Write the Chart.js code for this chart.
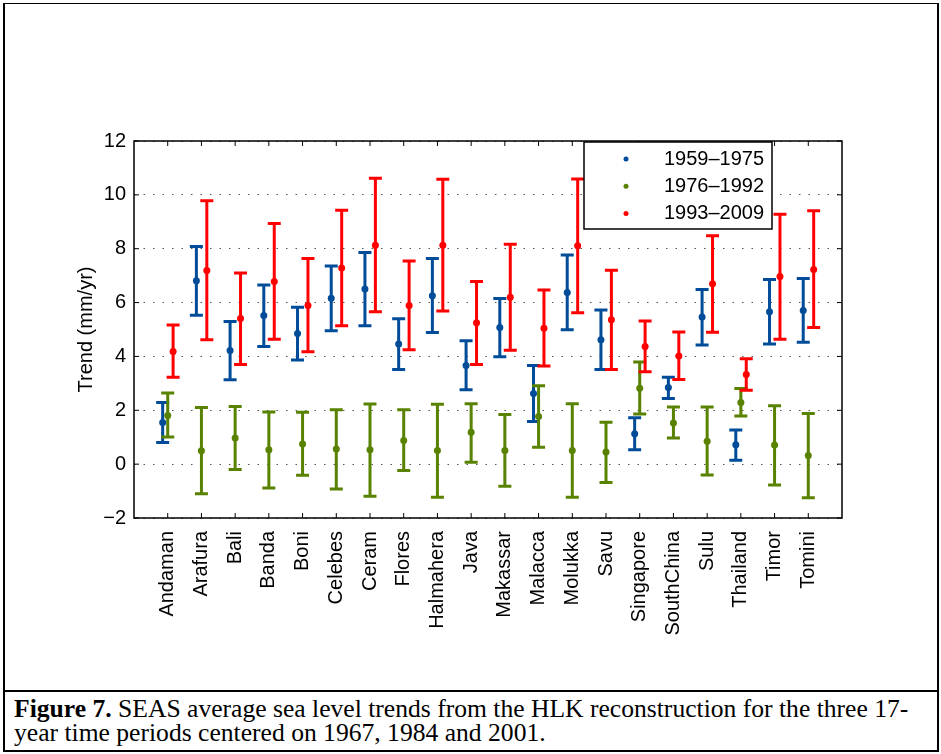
<!DOCTYPE html>
<html lang="en">
<head>
    <meta charset="UTF-8">
    <title>SEAS average sea level trends</title>
    <script src="https://cdnjs.cloudflare.com/ajax/libs/Chart.js/4.4.1/chart.umd.min.js"></script>
    <style>
        body {
            margin: 0;
            background: #fff;
            width: 941px;
            height: 754px;
            position: relative;
            overflow: hidden;
        }
        #frame {
            position: absolute;
            left: 3px;
            top: 3px;
            width: 932px;
            height: 746px;
            border-left: 2px solid #000;
            border-right: 2px solid #000;
            border-top: 1px solid #000;
            border-bottom: 2px solid #000;
        }
        #sep {
            position: absolute;
            left: 3px;
            top: 690px;
            width: 936px;
            height: 2px;
            background: #000;
        }
        #chartBox {
            position: absolute;
            left: 0;
            top: 0;
        }
        #caption {
            position: absolute;
            left: 14px;
            top: 697px;
            font-family: "Liberation Serif", "Times New Roman", serif;
            font-size: 25.6px;
            line-height: 24px;
            white-space: nowrap;
        }
    </style>
</head>
<body>
    <div id="frame"></div>
    <div id="sep"></div>
    <canvas id="chartBox" width="941" height="690"></canvas>
    <div id="caption"><b>Figure 7.</b> SEAS average sea level trends from the HLK reconstruction for the three 17-<br>year time periods centered on 1967, 1984 and 2001.</div>

    <script>
        // regions along the x axis
        const regions = ['Andaman', 'Arafura', 'Bali', 'Banda', 'Boni', 'Celebes', 'Ceram', 'Flores',
            'Halmahera', 'Java', 'Makassar', 'Malacca', 'Molukka', 'Savu', 'Singapore', 'SouthChina',
            'Sulu', 'Thailand', 'Timor', 'Tomini'];

        const periods = ['1959\u20131975', '1976\u20131992', '1993\u20132009'];

        // 1959-1975 trend and error bar limits (mm/yr)
        const trend1 = [1.55, 6.81, 4.22, 5.52, 4.85, 6.16, 6.50, 4.46, 6.25, 3.66, 5.07, 2.62, 6.37, 4.62, 1.13, 2.85, 5.46, 0.72, 5.66, 5.71];
        const low1   = [0.80, 5.53, 3.13, 4.37, 3.87, 4.95, 5.14, 3.51, 4.89, 2.76, 3.99, 1.58, 4.99, 3.51, 0.53, 2.44, 4.42, 0.14, 4.46, 4.53];
        const high1  = [2.29, 8.08, 5.30, 6.65, 5.83, 7.36, 7.86, 5.40, 7.64, 4.58, 6.15, 3.66, 7.77, 5.72, 1.72, 3.23, 6.49, 1.27, 6.86, 6.89];

        // 1976-1992
        const trend2 = [1.81, 0.50, 0.97, 0.53, 0.75, 0.56, 0.53, 0.88, 0.51, 1.18, 0.51, 1.77, 0.51, 0.45, 2.82, 1.53, 0.85, 2.29, 0.71, 0.32];
        const low2   = [1.01, -1.10, -0.20, -0.89, -0.41, -0.92, -1.19, -0.24, -1.23, 0.07, -0.82, 0.63, -1.23, -0.68, 1.86, 0.97, -0.40, 1.79, -0.77, -1.25];
        const high2  = [2.64, 2.10, 2.14, 1.94, 1.93, 2.02, 2.23, 2.02, 2.22, 2.24, 1.84, 2.91, 2.24, 1.56, 3.79, 2.12, 2.12, 2.81, 2.17, 1.88];

        // 1993-2009
        const trend3 = [4.18, 7.19, 5.41, 6.78, 5.89, 7.28, 8.13, 5.89, 8.13, 5.25, 6.20, 5.05, 8.11, 5.36, 4.37, 4.02, 6.70, 3.33, 6.97, 7.23];
        const low3   = [3.23, 4.62, 3.70, 4.64, 4.17, 5.14, 5.66, 4.25, 5.69, 3.70, 4.23, 3.64, 5.62, 3.51, 3.43, 3.14, 4.90, 2.74, 4.64, 5.07];
        const high3  = [5.17, 9.78, 7.10, 8.94, 7.64, 9.43, 10.62, 7.54, 10.58, 6.78, 8.17, 6.47, 10.59, 7.20, 5.32, 4.91, 8.48, 3.91, 9.28, 9.41];

        // y axis ticks
        const yTicks = [-2, 0, 2, 4, 6, 8, 10, 12];

        const FONT = '"Liberation Sans", Arial, sans-serif';

        function series(label, values, lower, upper, color, shift, order) {
            return {
                label: label,
                data: values.map((v, i) => ({ x: i + 1 + shift, y: v })),
                lower: lower,
                upper: upper,
                borderColor: color,
                backgroundColor: color,
                pointRadius: 3.5,
                pointBorderWidth: 0,
                showLine: false,
                order: order
            };
        }

        // vertical error bars with caps, drawn just before each dataset's dots
        const errorBars = {
            id: 'errorBars',
            beforeDatasetDraw(chart, args) {
                const ds = chart.data.datasets[args.index];
                const yScale = chart.scales.y;
                const ctx = chart.ctx;
                ctx.save();
                ctx.strokeStyle = ds.borderColor;
                ctx.lineWidth = 3;
                args.meta.data.forEach((pt, i) => {
                    const top = yScale.getPixelForValue(ds.upper[i]);
                    const bot = yScale.getPixelForValue(ds.lower[i]);
                    ctx.beginPath();
                    ctx.moveTo(pt.x, top);
                    ctx.lineTo(pt.x, bot);
                    ctx.moveTo(pt.x - 6.5, top);
                    ctx.lineTo(pt.x + 6.5, top);
                    ctx.moveTo(pt.x - 6.5, bot);
                    ctx.lineTo(pt.x + 6.5, bot);
                    ctx.stroke();
                });
                ctx.restore();
            }
        };

        // matlab style box with inward ticks on all sides
        const axisBox = {
            id: 'axisBox',
            afterDatasetsDraw(chart) {
                const { ctx, chartArea: a, scales } = chart;
                ctx.save();
                ctx.strokeStyle = '#000';
                ctx.lineWidth = 1;
                ctx.beginPath();
                regions.forEach((r, i) => {
                    const px = scales.x.getPixelForValue(i + 1);
                    ctx.moveTo(px, a.bottom);
                    ctx.lineTo(px, a.bottom - 5);
                    ctx.moveTo(px, a.top);
                    ctx.lineTo(px, a.top + 5);
                });
                yTicks.forEach(v => {
                    const py = scales.y.getPixelForValue(v);
                    ctx.moveTo(a.left, py);
                    ctx.lineTo(a.left + 5, py);
                    ctx.moveTo(a.right, py);
                    ctx.lineTo(a.right - 5, py);
                });
                ctx.stroke();
                ctx.lineWidth = 1.5;
                ctx.strokeRect(a.left, a.top, a.right - a.left, a.bottom - a.top);
                ctx.restore();
            }
        };

        // boxed legend in the upper right of the axes
        const boxLegend = {
            id: 'boxLegend',
            afterDraw(chart) {
                const ctx = chart.ctx;
                ctx.save();
                ctx.fillStyle = '#fff';
                ctx.fillRect(584, 142, 188, 87);
                ctx.strokeStyle = '#000';
                ctx.lineWidth = 1.5;
                ctx.strokeRect(584, 142, 188, 87);
                ctx.font = '20px ' + FONT;
                ctx.textBaseline = 'middle';
                chart.data.datasets.forEach((ds, i) => {
                    const cy = 159 + i * 27.3;
                    ctx.fillStyle = ds.borderColor;
                    ctx.beginPath();
                    ctx.arc(626, cy, 2.5, 0, 2 * Math.PI);
                    ctx.fill();
                    ctx.fillStyle = '#000';
                    ctx.fillText(ds.label, 664, cy);
                });
                ctx.restore();
            }
        };

        new Chart(document.getElementById('chartBox'), {
            type: 'scatter',
            data: {
                datasets: [
                    series(periods[0], trend1, low1, high1, '#004c99', -0.15, 3),
                    series(periods[1], trend2, low2, high2, '#588200', 0, 2),
                    series(periods[2], trend3, low3, high3, '#ff0000', 0.16, 1)
                ]
            },
            options: {
                responsive: false,
                animation: false,
                layout: { padding: { left: 0, right: 99, top: 141, bottom: 0 } },
                plugins: {
                    legend: { display: false },
                    tooltip: { enabled: false }
                },
                scales: {
                    x: {
                        type: 'linear',
                        min: 0,
                        max: regions.length + 1,
                        afterBuildTicks: scale => {
                            scale.ticks = regions.map((r, i) => ({ value: i + 1 }));
                        },
                        afterFit: scale => { scale.height = 172; },
                        grid: { display: false },
                        border: { display: false },
                        ticks: {
                            autoSkip: false,
                            minRotation: 90,
                            maxRotation: 90,
                            padding: 5,
                            color: '#000',
                            font: { family: FONT, size: 20 },
                            callback: v => regions[v - 1]
                        }
                    },
                    y: {
                        min: -2,
                        max: 12,
                        afterBuildTicks: scale => {
                            scale.ticks = yTicks.map(v => ({ value: v }));
                        },
                        afterFit: scale => { scale.width = 134; },
                        // in v4 the grid line dash is read from border.dash
                        border: { display: false, dash: [1.5, 8] },
                        grid: {
                            drawTicks: false,
                            color: '#555',
                            lineWidth: 1
                        },
                        ticks: {
                            padding: 8,
                            color: '#000',
                            font: { family: FONT, size: 20 },
                            callback: v => (v < 0 ? '\u2212' + Math.abs(v) : String(v))
                        },
                        title: {
                            display: true,
                            text: 'Trend (mm/yr)',
                            color: '#000',
                            font: { family: FONT, size: 20 },
                            padding: { top: 74, bottom: 0 }
                        }
                    }
                }
            },
            plugins: [errorBars, axisBox, boxLegend]
        });
    </script>
</body>
</html>
